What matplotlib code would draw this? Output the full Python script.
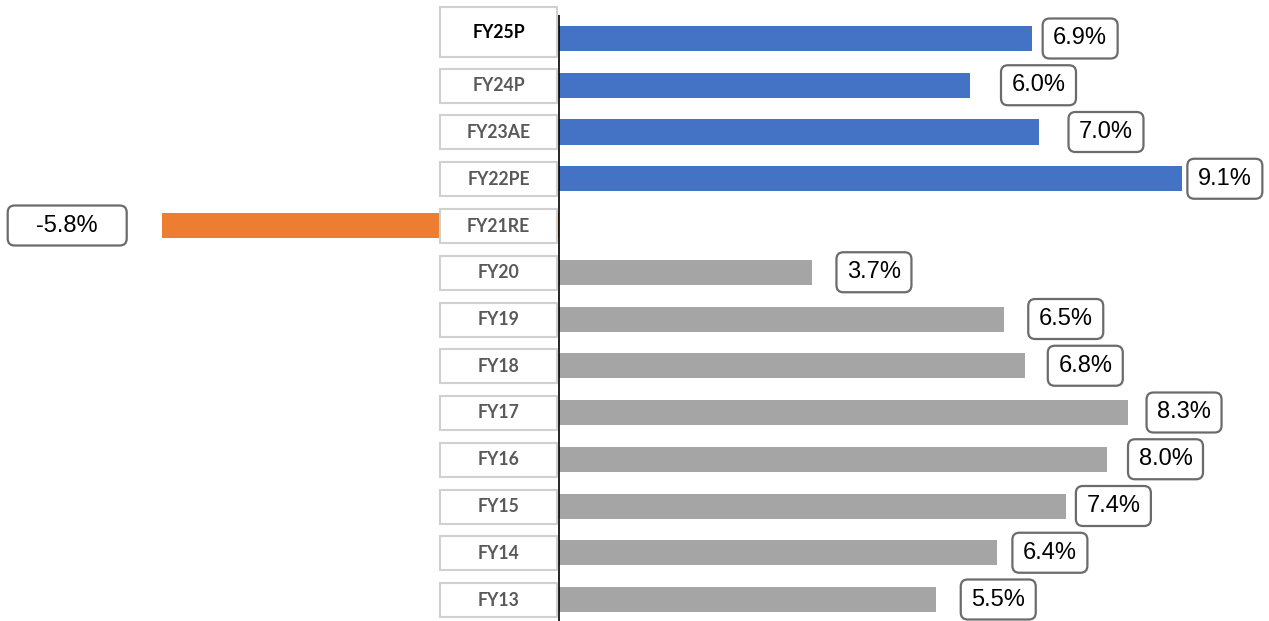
import matplotlib.pyplot as plt
import matplotlib.patches as patches

# Dados (de baixo para cima)
categorias = ['FY13', 'FY14', 'FY15', 'FY16', 'FY17', 'FY18', 'FY19',
              'FY20', 'FY21RE', 'FY22PE', 'FY23AE', 'FY24P', 'FY25P']
crescimento = [5.5, 6.4, 7.4, 8.0, 8.3, 6.8, 6.5, 3.7, -5.8, 9.1, 7.0, 6.0, 6.9]
grupo = ['hist'] * 8 + ['covid'] + ['proj'] * 4

# Estilo / layout
cores = {'hist': '#A5A5A5', 'covid': '#ED7D31', 'proj': '#4472C4'}
destaque = 'FY25P'
# distância (px) entre fim da barra e a caixa do rótulo, como no original
gap_rotulo = [25, 15, 10, 21, 19, 23, 24, 24, 35, 5, 30, 31, 11]

W, H = 1269, 621
PX_X = 68.5    # pixels por ponto percentual
PX_Y = 46.75   # pixels por linha
ZERO_X = 559
TOPO = 38.5    # centro da primeira linha (px a partir do topo)

fig = plt.figure(figsize=(W / 100, H / 100), dpi=100)
ax = fig.add_axes([0, 0, 1, 1])
n = len(categorias)
y_bottom = -(H - TOPO - (n - 1) * PX_Y) / PX_Y
y_top = (n - 1) + TOPO / PX_Y
ax.set_xlim(-ZERO_X / PX_X, (W - ZERO_X) / PX_X)
ax.set_ylim(y_bottom, y_top)
ax.axis('off')

def px_x(p):
    return p / PX_X

def px_y(p):
    return p / PX_Y

ys = list(range(n))
ax.barh(ys, crescimento, height=px_y(25), color=[cores[g] for g in grupo], zorder=2)

# Caixas das categorias
for y, cat in zip(ys, categorias):
    if cat == destaque:
        h = px_y(50)
        yc = y + px_y(6.5)
        cor_txt = 'black'
    else:
        h = px_y(34)
        yc = y - px_y(0.5)
        cor_txt = '#595959'
    x0 = px_x(440 - ZERO_X)
    w = px_x(117)
    rect = patches.Rectangle((x0, yc - h / 2), w, h, facecolor='white',
                             edgecolor='#D0D0D0', linewidth=1.5, zorder=3)
    ax.add_patch(rect)
    ax.text(x0 + w / 2, yc, cat, ha='center', va='center', fontsize=12.7,
            fontweight='bold', family='Lato', color=cor_txt, zorder=4)

# Eixo vertical
ax.vlines(0, y_bottom, y_top - px_y(15), color='black', linewidth=1.2, zorder=4)

# Rótulos de valor
aspecto = PX_X / PX_Y
for y, v, gap in zip(ys, crescimento, gap_rotulo):
    larg = 75 if v >= 0 else 119
    alt = 40
    if v >= 0:
        x0 = v + px_x(gap)
    else:
        x0 = v - px_x(gap + larg)
    caixa = patches.FancyBboxPatch((x0, y - px_y(alt) / 2), px_x(larg), px_y(alt),
                                   boxstyle='round,pad=0,rounding_size=%f' % px_x(7),
                                   mutation_aspect=aspecto,
                                   facecolor='white', edgecolor='#6B6B6B',
                                   linewidth=1.6, zorder=5)
    ax.add_patch(caixa)
    ax.text(x0 + px_x(larg) / 2, y, f'{v:.1f}%', ha='center', va='center',
            fontsize=17, family='Liberation Sans', color='black', zorder=6)

plt.savefig('out.png', dpi=100)
